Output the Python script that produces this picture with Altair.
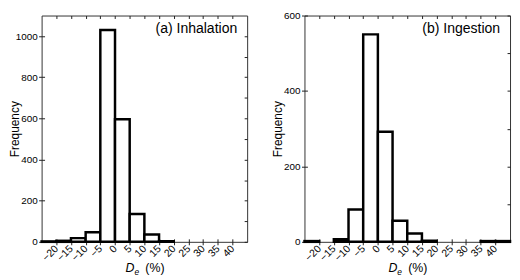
import altair as alt
import pandas as pd

# ---- data ----
bin_start = [-25, -20, -15, -10, -5, 0, 5, 10, 15, 20, 25, 30, 35, 40]
bin_width = 5
inhalation = [2, 5, 18, 47, 1030, 596, 135, 36, 3, 0, 0, 0, 0, 0]
ingestion = [2, 0, 7, 86, 550, 292, 56, 22, 3, 0, 0, 0, 2, 2]
x_ticks = [-20, -15, -10, -5, 0, 5, 10, 15, 20, 25, 30, 35, 40]
x_domain = [-25, 45]
inh_major = [0, 200, 400, 600, 800, 1000]
inh_minor = list(range(0, 1100, 100))
ing_major = [0, 200, 400, 600]
ing_minor = list(range(0, 700, 100))
panel_labels = ["(a) Inhalation", "(b) Ingestion"]

FONT = "Liberation Sans"
W, H = 208, 229


def panel(values, ymax, major, minor, label):
    df = pd.DataFrame({
        "lo": bin_start,
        "hi": [b + bin_width for b in bin_start],
        "n": values,
    })
    df = df[df["n"] > 0]
    xs = alt.Scale(domain=x_domain, nice=False, zero=False)
    ys = alt.Scale(domain=[0, ymax], nice=False)

    bars = alt.Chart(df).mark_bar(
        fill="white", stroke="black", strokeWidth=2.5, strokeJoin="miter"
    ).encode(
        x=alt.X("lo:Q", scale=xs, axis=alt.Axis(
            values=x_ticks, offset=-3, tickSize=6, domain=False, grid=False,
            labelAngle=315, labelAlign="right", labelBaseline="middle",
            labelOverlap=False, labelPadding=2, labelFontSize=10.5,
            title=None)),
        x2="hi:Q",
        y=alt.Y("n:Q", scale=ys, axis=alt.Axis(
            values=major, format="d", offset=-3, tickSize=6, domain=False,
            grid=False, labelPadding=1.5, labelFontSize=10, title="Frequency",
            titleX=-23, titleY=H / 2, titleAngle=270, titleBaseline="bottom",
            titleAlign="center", titleFontWeight="normal", titleFontSize=12)),
        y2=alt.datum(0),
    )

    ticks = alt.Chart(df).mark_point(opacity=0).encode(
        x=alt.X("lo:Q", scale=xs, axis=alt.Axis(
            orient="top", values=x_ticks, offset=-3, tickSize=3,
            labels=False, domain=False, grid=False, title=None)),
        y=alt.Y("n:Q", scale=ys, axis=alt.Axis(
            orient="right", values=minor, offset=-3, tickSize=3,
            labels=False, domain=False, grid=False, title=None)),
    )

    one = pd.DataFrame({"k": [0]})
    lab = alt.Chart(one).mark_text(
        text=label, align="right", baseline="middle", fontSize=14.2, font=FONT,
        color="black"
    ).encode(x=alt.value(W - 10), y=alt.value(14))

    x0 = W / 2 - 19
    t_d = alt.Chart(one).mark_text(
        text="D", align="left", baseline="alphabetic", fontSize=12.5,
        fontStyle="italic", font=FONT, color="black"
    ).encode(x=alt.value(x0), y=alt.value(H + 31))
    t_e = alt.Chart(one).mark_text(
        text="e", align="left", baseline="alphabetic", fontSize=8.5,
        fontStyle="italic", font=FONT, color="black"
    ).encode(x=alt.value(x0 + 9), y=alt.value(H + 33.5))
    t_p = alt.Chart(one).mark_text(
        text="(%)", align="left", baseline="alphabetic", fontSize=12.5,
        font=FONT, color="black"
    ).encode(x=alt.value(x0 + 20), y=alt.value(H + 31))

    return alt.layer(bars, ticks, lab, t_d, t_e, t_p).resolve_axis(
        x="independent", y="independent"
    ).properties(width=W, height=H)


left = panel(inhalation, 1100, inh_major, inh_minor, panel_labels[0])
right = panel(ingestion, 600, ing_major, ing_minor, panel_labels[1])

chart = alt.hconcat(left, right, spacing=23).properties(
    padding=0,
    background="white",
).configure_axis(
    labelFont=FONT, labelColor="black",
    tickColor="#222", tickWidth=1, titleFont=FONT, titleColor="black",
).configure_view(stroke="#333", strokeWidth=1)

chart.save("out.html", embed_options={"renderer": "svg", "actions": False})
